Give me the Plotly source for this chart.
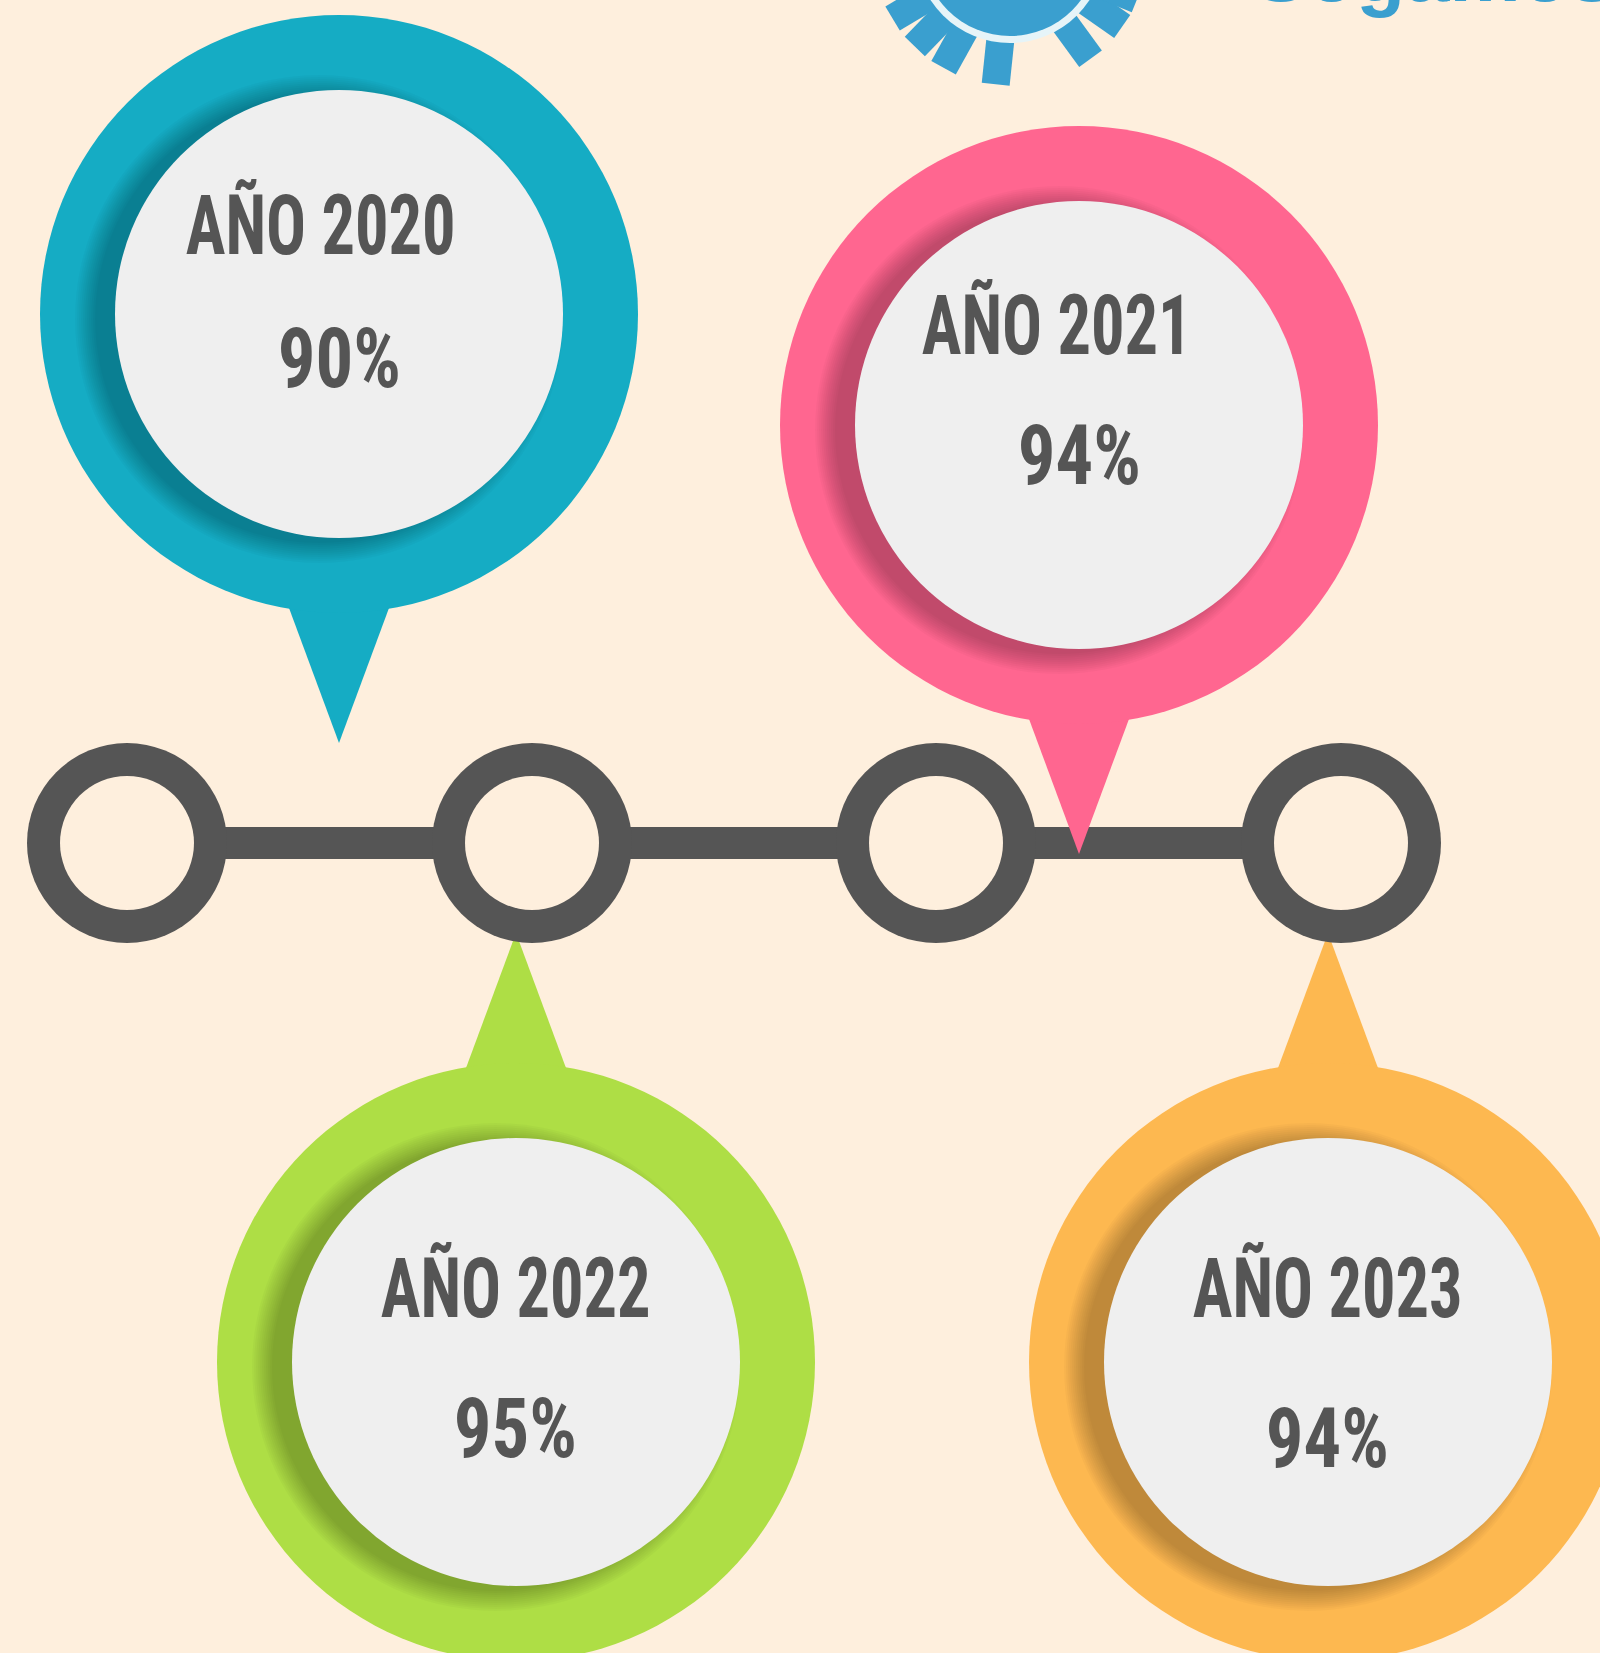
import math
import plotly.graph_objects as go

# ---------------- data ----------------
years = ["AÑO 2020", "AÑO 2021", "AÑO 2022", "AÑO 2023"]
values = [90, 94, 95, 94]
pin_colors = ["#15ACC4", "#FF6690", "#AEDE45", "#FDB850"]
logo_text = "Sogamoso"

# ---------------- layout / style ----------------
W, H = 1600, 1653
BG = "#FEEFDD"
GRAY = "#555555"
INNER = "#EFEFEF"
LOGO_BLUE = "#3A9FCF"
FONT = "Roboto Condensed, Open Sans, sans-serif"

pin_centers = [(339, 314), (1079, 425), (516, 1362), (1328, 1362)]
pin_dir = [1, 1, -1, -1]          # 1 = pointer downwards
title_pos = [(320, 225), (1056, 325), (515, 1288), (1327, 1288)]
value_pos = [(339, 358), (1079, 455), (515, 1428), (1327, 1438)]
R_OUT, R_IN, TIP = 299, 224, 429
node_x = [127, 532, 936, 1341]
node_y = 843
NODE_R, NODE_RIN = 100, 67

shapes = []


def circle(cx, cy, r, color, opacity=1.0):
    return dict(type="circle", xref="x", yref="y", x0=cx - r, x1=cx + r,
                y0=cy - r, y1=cy + r, fillcolor=color, line=dict(width=0),
                opacity=opacity, layer="above")


def pin(i):
    cx, cy = pin_centers[i]
    d = pin_dir[i]
    col = pin_colors[i]
    out = []
    by = cy + d * (R_OUT - 5)
    ty = cy + d * TIP
    out.append(dict(type="path", xref="x", yref="y",
                    path=f"M {cx-50},{by} L {cx+50},{by} L {cx},{ty} Z",
                    fillcolor=col, line=dict(width=0), layer="above"))
    out.append(circle(cx, cy, R_OUT, col))
    # soft shadow of the inner disc (left side)
    for k in range(11):
        out.append(circle(cx - 20, cy + 5, R_IN + 2 * k, "#000000", 0.022))
    out.append(circle(cx, cy, R_IN, INNER))
    return out


# top logo (partially visible)
lx, ly = 1010, -52
for ang in [-59, -44, -29, -6, 36, 55, 68]:
    a = math.radians(ang)
    x0 = lx + 92 * math.sin(a)
    y0 = ly + 92 * math.cos(a)
    x1 = lx + 137 * math.sin(a)
    y1 = ly + 137 * math.cos(a)
    shapes.append(dict(type="line", xref="x", yref="y", x0=x0, y0=y0, x1=x1, y1=y1,
                       line=dict(color=LOGO_BLUE, width=28), layer="above"))
shapes.append(circle(lx, ly, 95, "#E6F4F8"))
shapes.append(circle(lx, ly, 88, LOGO_BLUE))

# bottom pins (under the timeline)
shapes += pin(2)
shapes += pin(3)

# timeline
shapes.append(dict(type="line", xref="x", yref="y", x0=node_x[0], x1=node_x[-1],
                   y0=node_y, y1=node_y, line=dict(color=GRAY, width=32), layer="above"))
for nx in node_x:
    shapes.append(circle(nx, node_y, NODE_R, GRAY))
    shapes.append(circle(nx, node_y, NODE_RIN, BG))

# top pins
shapes += pin(0)
shapes += pin(1)

annotations = []
for i in range(4):
    tx, ty = title_pos[i]
    vx, vy = value_pos[i]
    annotations.append(dict(x=tx, y=ty, xref="x", yref="y", text=years[i],
                            showarrow=False, xanchor="center", yanchor="middle",
                            font=dict(family=FONT, size=83, color=GRAY, weight=700)))
    annotations.append(dict(x=vx, y=vy, xref="x", yref="y", text=f"{values[i]}%",
                            showarrow=False, xanchor="center", yanchor="middle",
                            font=dict(family=FONT, size=83, color=GRAY, weight=700)))

annotations.append(dict(x=1252, y=20, xref="x", yref="y", text=logo_text,
                        showarrow=False, xanchor="left", yanchor="bottom",
                        font=dict(family="Liberation Sans, Arial, sans-serif", size=80,
                                  color=LOGO_BLUE, weight=800)))
annotations.append(dict(x=-10, y=1480, xref="x", yref="y", text="al de",
                        showarrow=False, xanchor="left", yanchor="middle",
                        font=dict(family="Liberation Sans, sans-serif", size=100,
                                  color="rgba(120,150,130,0.10)", weight=800)))

post = """
document.body.style.margin='0';
document.querySelectorAll('text.annotation-text').forEach(function(t){
  var s = t.textContent;
  var k = null;
  if(s.indexOf('AÑO')===0){k = 0.8;}
  else if(s.slice(-1)==='%'){k = 0.9;}
  if(k){
    t.style.transformBox='fill-box';
    t.style.transformOrigin='center';
    t.style.transform='scaleX(' + k + ')';
  }
});
"""

fig = go.Figure()
fig.add_trace(go.Scatter(x=[0, W], y=[0, H], mode="markers",
                         marker=dict(opacity=0), hoverinfo="skip", showlegend=False))
fig.update_layout(
    width=W, height=H,
    margin=dict(l=0, r=0, t=0, b=0),
    paper_bgcolor=BG, plot_bgcolor=BG,
    xaxis=dict(range=[0, W], visible=False, fixedrange=True),
    yaxis=dict(range=[H, 0], visible=False, fixedrange=True),
    shapes=shapes,
    annotations=annotations,
    showlegend=False,
)
fig.write_html("out.html", post_script=post, config={"displayModeBar": False})
